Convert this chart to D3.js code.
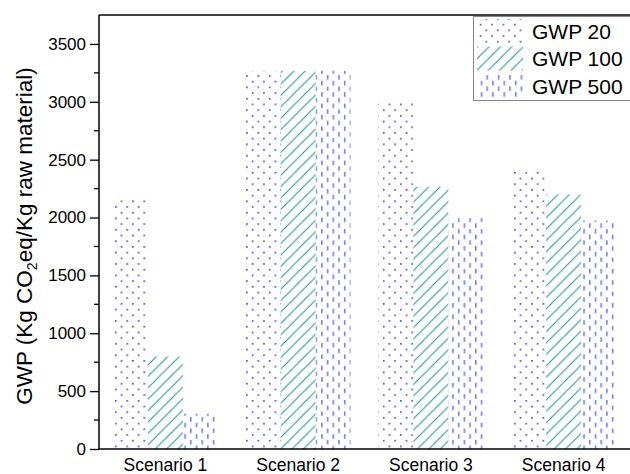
<!DOCTYPE html>
<html><head><meta charset="utf-8">
<script src="https://cdn.jsdelivr.net/npm/d3@7/dist/d3.min.js"></script>
<style>body{margin:0;background:#fff}svg{display:block;font-family:"Liberation Sans",Arial,sans-serif}</style>
</head><body><svg id="c" width="630" height="474"></svg>
<script>
const categories = ["Scenario 1","Scenario 2","Scenario 3","Scenario 4"];
const seriesNames = ["GWP 20","GWP 100","GWP 500"];
const gwp20  = [2165, 3268, 3010, 2410];
const gwp100 = [800, 3268, 2265, 2200];
const gwp500 = [305, 3268, 1995, 1975];
const yTicks = [0,500,1000,1500,2000,2500,3000,3500];
const series = [gwp20, gwp100, gwp500];
const FF = "Liberation Sans, Arial, sans-serif";

const svg = d3.select("#c");
const m = {l:99, r:630, t:15, b:449};
const x = d3.scaleBand().domain(categories).range([m.l, m.r]).paddingInner(0.21).paddingOuter(0.105);
const xs = d3.scaleBand().domain(seriesNames).range([0, x.bandwidth()]);
const y = d3.scaleLinear().domain([0, 3750]).range([m.b, m.t]);

const defs = svg.append("defs");
// dots
const p1 = defs.append("pattern").attr("id","p0").attr("patternUnits","userSpaceOnUse").attr("width",11.4).attr("height",11.4);
p1.append("rect").attr("x",1).attr("y",1).attr("width",1.6).attr("height",1.6).attr("fill","#3b3bff");
p1.append("rect").attr("x",6.7).attr("y",6.7).attr("width",1.6).attr("height",1.6).attr("fill","#3b3bff");
// diagonal lines
const p2 = defs.append("pattern").attr("id","p1").attr("patternUnits","userSpaceOnUse").attr("width",11.4).attr("height",11.4);
p2.append("path").attr("d","M0,11.4L11.4,0M-2,2L2,-2M9.4,13.4L13.4,9.4").attr("stroke","#1f9696").attr("stroke-width",1.05);
// vertical dashes
const p3 = defs.append("pattern").attr("id","p2").attr("patternUnits","userSpaceOnUse").attr("width",11.4).attr("height",11.4);
p3.append("rect").attr("x",2).attr("y",1).attr("width",1.4).attr("height",4.5).attr("fill","#5c6cff");
p3.append("rect").attr("x",7.7).attr("y",6.7).attr("width",1.4).attr("height",4.5).attr("fill","#5c6cff");

// bars
categories.forEach((c,i)=>{
  seriesNames.forEach((s,j)=>{
    svg.append("rect").attr("x", x(c)+xs(s)).attr("y", y(series[j][i]))
      .attr("width", xs.bandwidth()).attr("height", y(0)-y(series[j][i]))
      .attr("fill", `url(#p${j})`);
  });
});

// axes
const yAxis = d3.axisLeft(y).tickValues(yTicks).tickFormat(d3.format("d")).tickSize(9).tickPadding(4).tickSizeOuter(0);
const gy = svg.append("g").attr("transform",`translate(${m.l},0)`).call(yAxis);
gy.attr("font-family",FF);
gy.selectAll("text").attr("font-size",17).attr("fill","#000").attr("font-family",FF);
gy.selectAll("line").attr("stroke","#000").attr("stroke-width",1.3);
gy.select(".domain").attr("stroke","#000").attr("stroke-width",1.5).attr("d",`M0,${m.t}V${m.b}`);
const minor = d3.range(250, 3750, 500);
svg.append("g").selectAll("line").data(minor).join("line")
  .attr("x1",m.l-5).attr("x2",m.l).attr("y1",d=>y(d)).attr("y2",d=>y(d)).attr("stroke","#000").attr("stroke-width",1.3);

const xAxis = d3.axisBottom(x).tickSize(0).tickPadding(9.5);
const gx = svg.append("g").attr("transform",`translate(0,${m.b})`).call(xAxis);
gx.attr("font-family",FF);
gx.selectAll("text").attr("font-size",17.5).attr("fill","#000").attr("font-family",FF);
gx.select(".domain").attr("stroke","#000").attr("stroke-width",1.5).attr("d",`M${m.l},0H${m.r}`);
svg.append("line").attr("x1",m.l).attr("x2",m.r).attr("y1",m.t).attr("y2",m.t).attr("stroke","#000").attr("stroke-width",1.5);

// y title
const t = svg.append("text").attr("transform",`translate(32,236) rotate(-90)`)
  .attr("text-anchor","middle").attr("font-size",22.5).attr("fill","#000").attr("font-family",FF);
t.append("tspan").text("GWP (Kg CO");
t.append("tspan").text("2").attr("font-size",14).attr("dy",5);
t.append("tspan").text("eq/Kg raw material)").attr("dy",-5);

// legend
const lg = svg.append("g");
lg.append("rect").attr("x",473.5).attr("y",16.5).attr("width",160).attr("height",84).attr("fill","#fff").attr("stroke","#888").attr("stroke-width",1);
seriesNames.forEach((s,j)=>{
  const yy = 19 + j*27.5;
  lg.append("rect").attr("x",477).attr("y",yy).attr("width",46).attr("height",24).attr("fill",`url(#p${j})`);
  lg.append("text").attr("x",532).attr("y",yy+19.5).attr("font-size",21).attr("fill","#000").attr("font-family",FF).text(s);
});
</script></body></html>
